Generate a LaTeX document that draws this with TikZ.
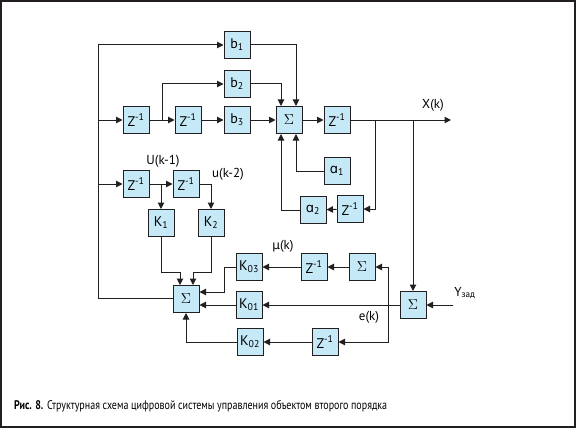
\documentclass[tikz,border=0pt]{standalone}
\usepackage{fontspec}
\usepackage{graphicx}
\setmainfont{PT Sans}
\newfontfamily\dvs{DejaVu Sans}
\usetikzlibrary{arrows.meta,calc}
\definecolor{boxfill}{HTML}{C6E9F8}
\definecolor{ink}{HTML}{231F20}
\tikzset{
  blk/.style={draw=ink,line width=1pt,fill=boxfill,minimum width=26pt,minimum height=27pt,inner sep=0pt,font=\fontsize{14}{15}\selectfont},
  arr/.style={-{Triangle[length=6.5pt,width=6.5pt]}},
  lbl/.style={font=\fontsize{13}{14}\selectfont,inner sep=0pt},
  conn/.style={draw=ink,line width=1pt}
}
\newcommand{\zinv}{Z\textsuperscript{-1}}
\newcommand{\asym}{{\dvs\fontsize{13}{14}\selectfont ɑ}}
\begin{document}
\begin{tikzpicture}[x=1pt,y=-1pt]
\useasboundingbox (0,0) rectangle (576,428);
\draw[draw=ink,line width=1.6pt] (1,1) rectangle (575,427);
% blocks
\node[blk] (b1) at (237,45) {b\textsubscript{1}};
\node[blk] (b2) at (237,84) {b\textsubscript{2}};
\node[blk] (z1) at (136,120) {\zinv};
\node[blk] (z2) at (188,120) {\zinv};
\node[blk] (b3) at (237,120) {b\textsubscript{3}};
\node[blk] (s1) at (289,120) {$\Sigma$};
\node[blk] (z3) at (337,120) {\zinv};
\node[blk] (a1) at (337,171) {\asym\textsubscript{1}};
\node[blk] (a2) at (313,210) {\asym\textsubscript{2}};
\node[blk] (z6) at (350,209) {\zinv};
\node[blk] (z4) at (136,184) {\zinv};
\node[blk] (z5) at (186,184) {\zinv};
\node[blk] (k1) at (161,223) {K\textsubscript{1}};
\node[blk] (k2) at (211,223) {K\textsubscript{2}};
\node[blk] (s2) at (186,299) {$\Sigma$};
\node[blk] (k03) at (249,267) {K\textsubscript{03}};
\node[blk] (k01) at (249,305) {K\textsubscript{01}};
\node[blk] (k02) at (250,342) {K\textsubscript{02}};
\node[blk] (z7) at (314,267) {\zinv};
\node[blk] (s3) at (362,267) {$\Sigma$};
\node[blk] (s4) at (413,305) {$\Sigma$};
\node[blk] (z8) at (325,342) {\zinv};
% coordinates
\coordinate (ltop) at (98,45);
\coordinate (lbot) at (98,298);
\coordinate (br1) at (375,120);
\coordinate (br2) at (413,120);
\coordinate (xout) at (451,120);
\coordinate (yin) at (453,305);
\coordinate (ek) at (388,305);
\coordinate (kj) at (0,272);
\coordinate (k3j) at (224,292);
\coordinate (m1) at (162,120);
\coordinate (m2) at (161,184);
% top part
\draw[conn,arr] (ltop) -- (b1);
\draw[conn] (ltop) -- (lbot) -- (lbot -| s2.west);
\draw[conn,arr] (ltop |- z1) -- (z1);
\draw[conn,arr] (ltop |- z4) -- (z4);
\draw[conn,arr] (z1) -- (z2);
\draw[conn,arr] (m1) |- (b2);
\draw[conn,arr] (z2) -- (b3);
\draw[conn,arr] (b3) -- (s1);
\draw[conn,arr] (b1) -| ([xshift=7pt]s1.north);
\draw[conn,arr] (b2) -| ([xshift=-8pt]s1.north);
\draw[conn,arr] (s1) -- (z3);
\draw[conn,arr] (z3) -- (xout);
\draw[conn,arr] (br1) |- (z6);
\draw[conn,arr] (z6) -- (a2);
\draw[conn,arr] (a2) -| ([xshift=-8pt]s1.south);
\draw[conn,arr] (a1) -| ([xshift=7pt]s1.south);
\draw[conn,arr] (br2) -- (s4);
% middle
\draw[conn,arr] (z4) -- (z5);
\draw[conn,arr] (m2) -- (m2 |- k1.north);
\draw[conn,arr] (z5) -| (k2);
\draw[conn,arr] (k1) -- (k1.south |- kj) -| ([xshift=-6pt]s2.north);
\draw[conn,arr] (k2) -- (k2.south |- kj) -| ([xshift=7pt]s2.north);
% bottom
\draw[conn,arr] (yin) -- (s4);
\draw[conn,arr] (s4) -- (k01);
\draw[conn,arr] (k01) -- (k01 -| s2.east);
\draw[conn,arr] (ek) |- (s3);
\draw[conn,arr] (ek) |- (z8);
\draw[conn,arr] (s3) -- (z7);
\draw[conn,arr] (z7) -- (k03);
\draw[conn,arr] (k03) -| (k3j) -- (k3j -| s2.east);
\draw[conn,arr] (z8) -- (k02);
\draw[conn,arr] (k02) -| (s2);
% labels
\node[lbl] (lx) at (433,105) {X(k)};
\node[lbl] (lu1) at (163,161) {U(k-1)};
\node[lbl] (lu2) at (228,174) {u(k-2)};
\node[lbl] (lmu) at (283,246) {{\dvs\fontsize{12}{13}\selectfont μ}(k)};
\node[lbl] (le) at (369,317) {e(k)};
\node[lbl] (ly) at (465,293) {Y\textsubscript{зад}};
\node[anchor=west,inner sep=0pt,font=\fontsize{12.5}{13}\selectfont] (cap) at (14,406)
  {\resizebox{373pt}{\height}{\textbf{Рис. 8.} Структурная схема цифровой системы управления объектом второго порядка}};
\end{tikzpicture}
\end{document}
